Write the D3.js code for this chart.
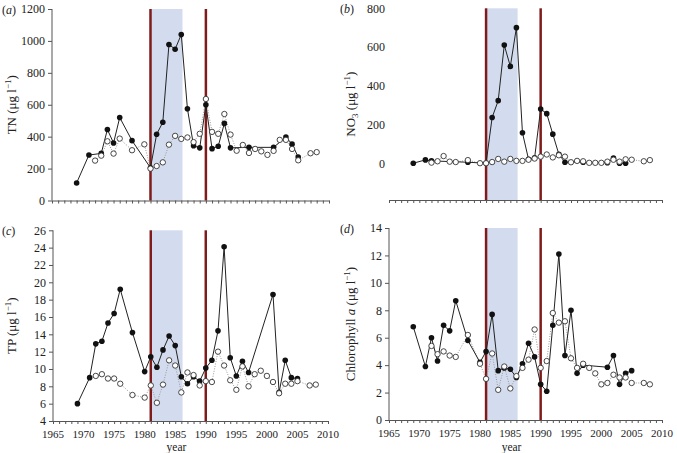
<!DOCTYPE html>
<html>
<head>
<meta charset="utf-8">
<script src="https://cdn.jsdelivr.net/npm/d3@7"></script>
<style>
  body { margin: 0; background: #fff; }
  svg text { font-family: "Liberation Serif", "Times New Roman", serif; fill: #222; }
  .axis path, .axis line { stroke: #555; }
</style>
</head>
<body>
<svg id="chart" width="677" height="453"></svg>
<script>
// ---- DATA ----
let xDomain = [1965, 2010];
let yearLabels = [1965, 1970, 1975, 1980, 1985, 1990, 1995, 2000, 2005, 2010];
let eventYears = [1981, 1990];
let shadeSpan = [1981, 1986.2];

// (a) TN
let tnFilled = [[1969,110],[1971,285],[1973,295],[1974,445],[1975,360],[1976,520],[1978,375],[1981,205],[1982,415],[1983,490],[1984,978],[1985,948],[1986,1040],[1987,575],[1988,343],[1989,330],[1990,600],[1991,325],[1992,340],[1993,483],[1994,330],[1997,333],[2001,333],[2003,398],[2004,353],[2005,272]];
let tnOpen = [[1972,250],[1973,281],[1974,371],[1975,294],[1976,388],[1978,315],[1980,352],[1981,200],[1982,216],[1983,239],[1984,350],[1985,405],[1986,386],[1987,395],[1988,366],[1989,418],[1990,636],[1991,430],[1992,418],[1993,542],[1994,413],[1995,312],[1996,348],[1997,298],[1998,323],[1999,308],[2000,286],[2001,311],[2002,380],[2003,380],[2004,323],[2005,252],[2007,296],[2008,303]];
let tnTicks = [0, 200, 400, 600, 800, 1000, 1200];

// (b) NO3
let noFilled = [[1969,0],[1971,17],[1972,12],[1978,5],[1981,0],[1982,236],[1983,323],[1984,610],[1985,500],[1986,700],[1987,157],[1988,20],[1989,28],[1990,280],[1991,256],[1992,150],[1993,46],[1994,5],[1997,5],[2001,3],[2002,26],[2003,0],[2004,0]];
let noOpen = [[1972,3],[1973,10],[1974,37],[1975,8],[1976,6],[1978,16],[1980,0],[1981,0],[1982,6],[1983,22],[1984,8],[1985,22],[1986,12],[1987,12],[1988,18],[1989,24],[1990,34],[1991,45],[1992,30],[1993,41],[1994,34],[1995,5],[1996,12],[1997,10],[1998,2],[1999,2],[2000,2],[2001,8],[2002,18],[2003,8],[2004,20],[2005,18],[2007,10],[2008,16]];
let noTicks = [0, 200, 400, 600, 800];

// (c) TP
let tpFilled = [[1969,6.0],[1971,9.0],[1972,12.9],[1973,13.2],[1974,15.3],[1975,16.4],[1976,19.2],[1978,14.2],[1980,9.7],[1981,11.4],[1982,10.2],[1983,12.2],[1984,13.8],[1985,12.7],[1986,9.1],[1987,8.3],[1988,9.1],[1989,8.6],[1990,10.1],[1991,11.0],[1992,14.4],[1993,24.1],[1994,11.3],[1995,9.2],[1996,10.9],[1997,9.6],[2001,18.6],[2002,7.3],[2003,11.0],[2004,9.0],[2005,8.9]];
let tpOpen = [[1972,9.2],[1973,9.4],[1974,8.9],[1975,8.9],[1976,8.3],[1978,7.0],[1980,6.7],[1981,8.1],[1982,6.1],[1983,8.2],[1984,11.0],[1985,10.4],[1986,7.3],[1987,9.6],[1988,9.3],[1989,8.1],[1990,8.6],[1991,8.5],[1992,12.0],[1993,10.4],[1994,8.7],[1995,7.6],[1996,10.3],[1997,8.0],[1998,9.4],[1999,9.8],[2000,9.2],[2001,8.5],[2002,7.2],[2003,8.3],[2004,8.3],[2005,8.6],[2007,8.1],[2008,8.2]];
let tpTicks = [4, 6, 8, 10, 12, 14, 16, 18, 20, 22, 24, 26];

// (d) Chlorophyll a
let chlFilled = [[1969,6.8],[1971,3.9],[1972,6.0],[1973,4.3],[1974,6.9],[1975,6.5],[1976,8.7],[1978,5.8],[1980,4.2],[1981,5.0],[1982,7.7],[1983,3.6],[1984,3.8],[1985,3.7],[1986,3.1],[1987,4.1],[1988,5.6],[1989,4.6],[1990,2.6],[1991,2.1],[1992,6.9],[1993,12.1],[1994,4.7],[1995,8.0],[1996,3.4],[1997,4.0],[2001,3.85],[2002,4.7],[2003,2.6],[2004,3.4],[2005,3.6]];
let chlOpen = [[1972,5.4],[1973,4.8],[1974,5.0],[1975,4.7],[1976,4.6],[1978,6.2],[1980,4.1],[1981,3.0],[1982,4.85],[1983,2.2],[1984,3.9],[1985,2.3],[1986,3.2],[1987,3.8],[1988,4.4],[1989,6.6],[1990,3.8],[1991,4.3],[1992,7.8],[1993,7.1],[1994,7.2],[1995,4.5],[1996,3.8],[1997,4.1],[1998,3.8],[1999,3.4],[2000,2.6],[2001,2.7],[2002,3.3],[2003,3.1],[2004,3.1],[2005,2.7],[2007,2.7],[2008,2.6]];
let chlTicks = [0, 2, 4, 6, 8, 10, 12, 14];

let svg = d3.select("#chart");

// PANELS
let panels = [
  { letter: "a", left: 52, right: 329, top: 9, bottom: 200.5, yDomain: [0, 1200], ticks: tnTicks,
    filled: tnFilled, open: tnOpen, title: "TN", titleX: 16, xLabels: false, yLine: true },
  { letter: "b", left: 389, right: 662, top: 8.3, bottom: 200, yDomain: [-190, 800], ticks: noTicks,
    filled: noFilled, open: noOpen, title: "NO3", titleX: 355, xLabels: false, yLine: false },
  { letter: "c", left: 53, right: 328, top: 230.3, bottom: 421, yDomain: [4, 26], ticks: tpTicks,
    filled: tpFilled, open: tpOpen, title: "TP", titleX: 16, xLabels: true, yLine: true },
  { letter: "d", left: 389, right: 662, top: 228, bottom: 420, yDomain: [0, 14], ticks: chlTicks,
    filled: chlFilled, open: chlOpen, title: "Chl", titleX: 355, xLabels: true, yLine: true }
];

panels.forEach(drawPanel);

function drawPanel(p) {
  let g = svg.append("g");
  let x = d3.scaleLinear().domain(xDomain).range([p.left, p.right]);
  let y = d3.scaleLinear().domain(p.yDomain).range([p.bottom, p.top]);

  // shaded period
  g.append("rect")
    .attr("x", x(shadeSpan[0]))
    .attr("y", p.top)
    .attr("width", x(shadeSpan[1]) - x(shadeSpan[0]))
    .attr("height", p.bottom - p.top)
    .attr("fill", "#d3dcee");

  // x axis (one tick per year)
  g.append("g")
    .attr("class", "axis")
    .attr("transform", "translate(0," + p.bottom + ")")
    .call(d3.axisBottom(x).tickValues(d3.range(1965, 2011)).tickSize(3).tickSizeOuter(0).tickFormat(""));

  if (p.xLabels) {
    g.selectAll(".xlab")
      .data(yearLabels)
      .enter()
      .append("text")
      .attr("x", function(d) { return x(d); })
      .attr("y", p.bottom + 17)
      .attr("text-anchor", "middle")
      .style("font-size", "11px")
      .text(function(d) { return d; });
    g.append("text")
      .attr("x", x(1985.2))
      .attr("y", 450.5)
      .attr("text-anchor", "middle")
      .style("font-size", "11.5px")
      .text("year");
  }

  // y axis
  let yAxisG = g.append("g")
    .attr("class", "axis")
    .attr("transform", "translate(" + p.left + ",0)")
    .call(d3.axisLeft(y).tickValues(p.ticks).tickFormat(d3.format("d"))
      .tickSize(p.yLine ? 4 : 0).tickSizeOuter(0).tickPadding(p.yLine ? 3 : 4));
  yAxisG.selectAll("text").style("font-size", "12px");
  yAxisG.select(".domain").attr("d", "M0," + y(p.ticks[0]) + "V" + y(p.ticks[p.ticks.length - 1]));
  if (!p.yLine) yAxisG.select(".domain").remove();

  // event lines
  g.selectAll(".event")
    .data(eventYears)
    .enter()
    .append("line")
    .attr("x1", function(d) { return x(d); })
    .attr("x2", function(d) { return x(d); })
    .attr("y1", p.top)
    .attr("y2", p.bottom)
    .attr("stroke", "#7f1b1b")
    .attr("stroke-width", 2.5);

  let line = d3.line()
    .x(function(d) { return x(d[0]); })
    .y(function(d) { return y(d[1]); });

  g.append("path")
    .datum(p.open)
    .attr("d", line)
    .attr("fill", "none")
    .attr("stroke", "#999")
    .attr("stroke-width", 1)
    .attr("stroke-dasharray", "1,1.5");

  g.append("path")
    .datum(p.filled)
    .attr("d", line)
    .attr("fill", "none")
    .attr("stroke", "#222")
    .attr("stroke-width", 1);

  g.selectAll(".filled")
    .data(p.filled)
    .enter()
    .append("circle")
    .attr("cx", function(d) { return x(d[0]); })
    .attr("cy", function(d) { return y(d[1]); })
    .attr("r", 2.8)
    .attr("fill", "#111");

  g.selectAll(".open")
    .data(p.open)
    .enter()
    .append("circle")
    .attr("cx", function(d) { return x(d[0]); })
    .attr("cy", function(d) { return y(d[1]); })
    .attr("r", 2.7)
    .attr("fill", "#fff")
    .attr("stroke", "#333")
    .attr("stroke-width", 0.9);

  // panel letter
  let lx = p.left < 200 ? 2 : 340;
  let lt = g.append("text")
    .attr("x", lx)
    .attr("y", p.top + 5)
    .style("font-size", "12px");
  lt.append("tspan").text("(");
  lt.append("tspan").style("font-style", "italic").text(p.letter);
  lt.append("tspan").text(")");

  // y title
  let cy = (p.top + p.bottom) / 2;
  let tt = g.append("text")
    .attr("transform", "translate(" + p.titleX + "," + cy + ") rotate(-90)")
    .attr("text-anchor", "middle")
    .style("font-size", "13px");
  if (p.title === "NO3") {
    tt.append("tspan").text("NO");
    tt.append("tspan").attr("dy", 3).style("font-size", "9px").text("3");
    tt.append("tspan").attr("dy", -3).text(" (μg l");
  } else if (p.title === "Chl") {
    tt.append("tspan").text("Chlorophyll ");
    tt.append("tspan").style("font-style", "italic").text("a");
    tt.append("tspan").text(" (μg l");
  } else {
    tt.append("tspan").text(p.title + " (μg l");
  }
  tt.append("tspan").attr("dy", -5).style("font-size", "9px").text("−1");
  tt.append("tspan").attr("dy", 5).text(")");
}
</script>
</body>
</html>
